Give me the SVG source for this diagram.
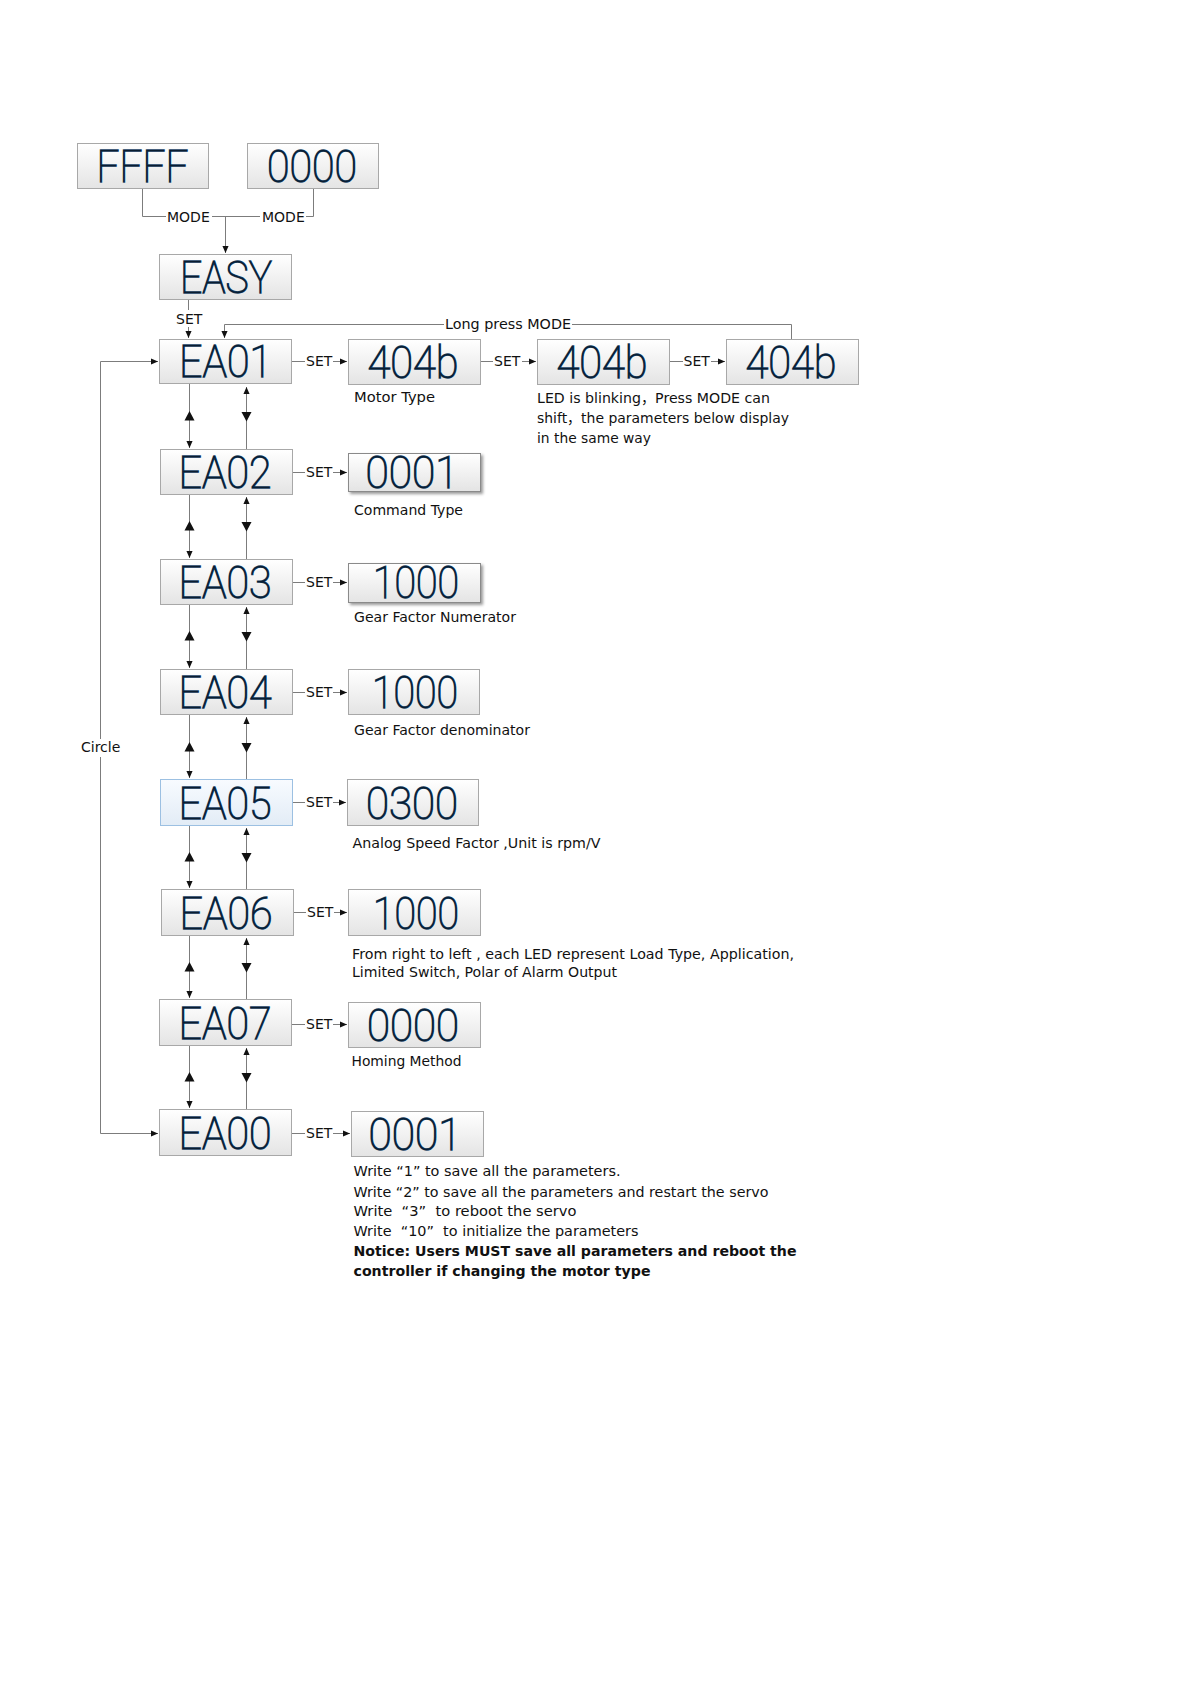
<svg xmlns="http://www.w3.org/2000/svg" width="1191" height="1684" viewBox="0 0 1191 1684">
<style>
.box { fill: url(#gBox); stroke: #a8a8a8; stroke-width: 1; }
.boxs { fill: url(#gBox); stroke: #8a8a8a; stroke-width: 1; filter: url(#shadow); }
.boxb { fill: url(#gBlue); stroke: #9cc0e2; stroke-width: 1; }
.led { font-family: Roboto, "DejaVu Sans", sans-serif; font-weight: 100; font-size: 44px; fill: #0a1d30; stroke: #143c60; stroke-width: 1.3; stroke-linejoin: miter; paint-order: stroke; text-anchor: middle; }
.ln { fill: none; stroke: #7c7c7c; stroke-width: 1; }
.arr { fill: none; stroke: #7c7c7c; stroke-width: 1; marker-end: url(#arr); }
.lbl { font-family: "DejaVu Sans", "Noto Sans CJK SC", sans-serif; font-size: 14px; fill: #111; }
.b { font-weight: bold; }
.tri { fill: #111; }
</style>
<defs>
<linearGradient id="gBox" x1="0" y1="0" x2="0" y2="1">
<stop offset="0" stop-color="#ffffff"/>
<stop offset="1" stop-color="#e4e4e4"/>
</linearGradient>
<linearGradient id="gBlue" x1="0" y1="0" x2="0" y2="1">
<stop offset="0" stop-color="#f8fbff"/>
<stop offset="1" stop-color="#e2ecf6"/>
</linearGradient>
<filter id="shadow" x="-10%" y="-10%" width="130%" height="150%">
<feDropShadow dx="2" dy="2" stdDeviation="1.5" flood-color="#000" flood-opacity="0.4"/>
</filter>
<marker id="arr" viewBox="0 0 8 8" refX="8" refY="4" markerWidth="7" markerHeight="7" markerUnits="userSpaceOnUse" orient="auto">
<path d="M0,0.5 L8,4 L0,7.5 z" fill="#111"/>
</marker>
</defs>
<rect width="1191" height="1684" fill="#ffffff"/>

<g id="connectors">
<path class="ln" d="M142.5,188 V216.5 H166"/>
<path class="ln" d="M212,216.5 H260"/>
<path class="ln" d="M306,216.5 H313.5 V188"/>
<path class="arr" d="M225.5,216.5 V253"/>
<text class="lbl" x="167" y="222">MODE</text>
<text class="lbl" x="262" y="222">MODE</text>
<path class="ln" d="M188.5,299 V310"/>
<text class="lbl" x="176" y="324">SET</text>
<path class="arr" d="M188.5,327 V338"/>
<path class="ln" d="M791.5,339 V324.5 H572"/>
<text class="lbl" x="445" y="329" textLength="126" lengthAdjust="spacingAndGlyphs">Long press MODE</text>
<path class="arr" d="M444,324.5 H224.5 V338"/>

<path class="ln" d="M291,361.5 H305"/><text class="lbl" x="306" y="366">SET</text><path class="arr" d="M333,361.5 H347"/>
<path class="ln" d="M480,361.5 H493"/><text class="lbl" x="494" y="366">SET</text><path class="arr" d="M522,361.5 H536"/>
<path class="ln" d="M669,361.5 H683"/><text class="lbl" x="683.5" y="366">SET</text><path class="arr" d="M711,361.5 H725"/>
<path class="ln" d="M292,472.5 H305"/><text class="lbl" x="306" y="477">SET</text><path class="arr" d="M333,472.5 H347"/>
<path class="ln" d="M292,582.5 H305"/><text class="lbl" x="306" y="587">SET</text><path class="arr" d="M333,582.5 H347"/>
<path class="ln" d="M292,692.5 H305"/><text class="lbl" x="306" y="697">SET</text><path class="arr" d="M333,692.5 H347"/>
<path class="ln" d="M292,802.5 H305"/><text class="lbl" x="306" y="807">SET</text><path class="arr" d="M333,802.5 H346"/>
<path class="ln" d="M293,912.5 H306"/><text class="lbl" x="307" y="917">SET</text><path class="arr" d="M334,912.5 H347"/>
<path class="ln" d="M291,1024.5 H305"/><text class="lbl" x="306" y="1029">SET</text><path class="arr" d="M333,1024.5 H347"/>
<path class="ln" d="M291,1133.5 H305"/><text class="lbl" x="306" y="1138">SET</text><path class="arr" d="M333,1133.5 H350"/>

<path class="arr" d="M189.5,383 V448"/><path class="arr" d="M246.5,449 V387"/>
<polygon class="tri" points="189.5,411 184.5,420.5 194.5,420.5"/><polygon class="tri" points="241.5,412 251.5,412 246.5,421.5"/>
<path class="arr" d="M189.5,494 V558"/><path class="arr" d="M246.5,559 V497"/>
<polygon class="tri" points="189.5,521 184.5,530.5 194.5,530.5"/><polygon class="tri" points="241.5,522 251.5,522 246.5,531.5"/>
<path class="arr" d="M189.5,604 V668"/><path class="arr" d="M246.5,669 V607"/>
<polygon class="tri" points="189.5,631 184.5,640.5 194.5,640.5"/><polygon class="tri" points="241.5,632 251.5,632 246.5,641.5"/>
<path class="arr" d="M189.5,714 V778"/><path class="arr" d="M246.5,779 V717"/>
<polygon class="tri" points="189.5,742 184.5,751.5 194.5,751.5"/><polygon class="tri" points="241.5,743 251.5,743 246.5,752.5"/>
<path class="arr" d="M189.5,825 V888"/><path class="arr" d="M246.5,889 V828"/>
<polygon class="tri" points="189.5,852 184.5,861.5 194.5,861.5"/><polygon class="tri" points="241.5,853 251.5,853 246.5,862.5"/>
<path class="arr" d="M189.5,935 V998"/><path class="arr" d="M246.5,999 V938"/>
<polygon class="tri" points="189.5,962 184.5,971.5 194.5,971.5"/><polygon class="tri" points="241.5,963 251.5,963 246.5,972.5"/>
<path class="arr" d="M189.5,1045 V1108"/><path class="arr" d="M246.5,1109 V1048"/>
<polygon class="tri" points="189.5,1072 184.5,1081.5 194.5,1081.5"/><polygon class="tri" points="241.5,1073 251.5,1073 246.5,1082.5"/>

<path class="arr" d="M100.5,739 V361.5 H158"/>
<path class="arr" d="M100.5,757 V1133.5 H158"/>
<text class="lbl" x="81" y="752">Circle</text>
</g>

<g id="n-ffff"><rect class="box" x="77.5" y="143.5" width="131" height="45"/><text class="led" x="142.5" y="182" textLength="92" lengthAdjust="spacingAndGlyphs">FFFF</text></g>
<g id="n-0000-top"><rect class="box" x="247.5" y="143.5" width="131" height="45"/><text class="led" x="312" y="182" textLength="90" lengthAdjust="spacingAndGlyphs">0000</text></g>
<g id="n-easy"><rect class="box" x="159.5" y="254.5" width="132" height="45"/><text class="led" x="226" y="293" textLength="92" lengthAdjust="spacingAndGlyphs">EASY</text></g>

<g id="n-ea01"><rect class="box" x="159.5" y="339.5" width="132" height="44"/><text class="led" x="225.5" y="377" textLength="93" lengthAdjust="spacingAndGlyphs">EA01</text></g>
<g id="n-p01a"><rect class="box" x="348.5" y="339.5" width="132" height="45"/><text class="led" x="413" y="377.5" textLength="91" lengthAdjust="spacingAndGlyphs">404b</text></g>
<g id="n-p01b"><rect class="box" x="537.5" y="339.5" width="132" height="45"/><text class="led" x="602" y="377.5" textLength="91" lengthAdjust="spacingAndGlyphs">404b</text></g>
<g id="n-p01c"><rect class="box" x="726.5" y="339.5" width="132" height="45"/><text class="led" x="791" y="377.5" textLength="91" lengthAdjust="spacingAndGlyphs">404b</text></g>

<g id="n-ea02"><rect class="box" x="160.5" y="449.5" width="132" height="45"/><text class="led" x="225" y="488" textLength="93" lengthAdjust="spacingAndGlyphs">EA02</text></g>
<g id="n-p02"><rect class="boxs" x="348.5" y="453.5" width="132" height="38"/><text class="led" x="412" y="488" textLength="93" lengthAdjust="spacingAndGlyphs">0001</text></g>

<g id="n-ea03"><rect class="box" x="160.5" y="559.5" width="132" height="45"/><text class="led" x="225" y="598" textLength="93" lengthAdjust="spacingAndGlyphs">EA03</text></g>
<g id="n-p03"><rect class="boxs" x="348.5" y="563.5" width="132" height="39"/><text class="led" x="416" y="598" textLength="86" lengthAdjust="spacingAndGlyphs">1000</text></g>

<g id="n-ea04"><rect class="box" x="160.5" y="669.5" width="132" height="45"/><text class="led" x="225" y="708" textLength="93" lengthAdjust="spacingAndGlyphs">EA04</text></g>
<g id="n-p04"><rect class="box" x="348.5" y="669.5" width="131" height="45"/><text class="led" x="415" y="708" textLength="86" lengthAdjust="spacingAndGlyphs">1000</text></g>

<g id="n-ea05"><rect class="boxb" x="160.5" y="779.5" width="132" height="46"/><text class="led" x="225" y="818.5" textLength="93" lengthAdjust="spacingAndGlyphs">EA05</text></g>
<g id="n-p05"><rect class="box" x="347.5" y="779.5" width="131" height="46"/><text class="led" x="412" y="818.5" textLength="92" lengthAdjust="spacingAndGlyphs">0300</text></g>

<g id="n-ea06"><rect class="box" x="161.5" y="889.5" width="132" height="46"/><text class="led" x="226" y="928.5" textLength="93" lengthAdjust="spacingAndGlyphs">EA06</text></g>
<g id="n-p06"><rect class="box" x="348.5" y="889.5" width="132" height="46"/><text class="led" x="416" y="928.5" textLength="86" lengthAdjust="spacingAndGlyphs">1000</text></g>

<g id="n-ea07"><rect class="box" x="159.5" y="999.5" width="132" height="46"/><text class="led" x="225" y="1038.5" textLength="93" lengthAdjust="spacingAndGlyphs">EA07</text></g>
<g id="n-p07"><rect class="box" x="348.5" y="1002.5" width="132" height="45"/><text class="led" x="413" y="1041" textLength="92" lengthAdjust="spacingAndGlyphs">0000</text></g>

<g id="n-ea00"><rect class="box" x="159.5" y="1109.5" width="132" height="46"/><text class="led" x="225" y="1148.5" textLength="93" lengthAdjust="spacingAndGlyphs">EA00</text></g>
<g id="n-p00"><rect class="box" x="351.5" y="1111.5" width="132" height="45"/><text class="led" x="415" y="1150" textLength="93" lengthAdjust="spacingAndGlyphs">0001</text></g>

<g id="notes">
<text class="lbl" x="354" y="402" textLength="81" lengthAdjust="spacingAndGlyphs">Motor Type</text>
<text class="lbl" x="537" y="403" textLength="233" lengthAdjust="spacingAndGlyphs">LED is blinking，Press MODE can</text>
<text class="lbl" x="537" y="423" textLength="252" lengthAdjust="spacingAndGlyphs">shift，the parameters below display</text>
<text class="lbl" x="537" y="443" textLength="114" lengthAdjust="spacingAndGlyphs">in the same way</text>
<text class="lbl" x="354" y="515" textLength="109" lengthAdjust="spacingAndGlyphs">Command Type</text>
<text class="lbl" x="354" y="622" textLength="162" lengthAdjust="spacingAndGlyphs">Gear Factor Numerator</text>
<text class="lbl" x="354" y="735" textLength="176" lengthAdjust="spacingAndGlyphs">Gear Factor denominator</text>
<text class="lbl" x="352.5" y="847.5" textLength="248" lengthAdjust="spacingAndGlyphs">Analog Speed Factor ,Unit is rpm/V</text>
<text class="lbl" x="352" y="958.5" textLength="442" lengthAdjust="spacingAndGlyphs">From right to left , each LED represent Load Type, Application,</text>
<text class="lbl" x="352" y="977" textLength="265" lengthAdjust="spacingAndGlyphs">Limited Switch, Polar of Alarm Output</text>
<text class="lbl" x="351.5" y="1066" textLength="110" lengthAdjust="spacingAndGlyphs">Homing Method</text>
<text class="lbl" x="353.5" y="1176" textLength="267" lengthAdjust="spacingAndGlyphs" xml:space="preserve">Write “1” to save all the parameters.</text>
<text class="lbl" x="353.5" y="1196.5" textLength="415" lengthAdjust="spacingAndGlyphs" xml:space="preserve">Write “2” to save all the parameters and restart the servo</text>
<text class="lbl" x="353.5" y="1216" textLength="223" lengthAdjust="spacingAndGlyphs" xml:space="preserve">Write  “3”  to reboot the servo</text>
<text class="lbl" x="353.5" y="1236" textLength="285" lengthAdjust="spacingAndGlyphs" xml:space="preserve">Write  “10”  to initialize the parameters</text>
<text class="lbl b" x="353.5" y="1256" textLength="443" lengthAdjust="spacingAndGlyphs">Notice: Users MUST save all parameters and reboot the</text>
<text class="lbl b" x="353.5" y="1276" textLength="297" lengthAdjust="spacingAndGlyphs">controller if changing the motor type</text>
</g>
</svg>
